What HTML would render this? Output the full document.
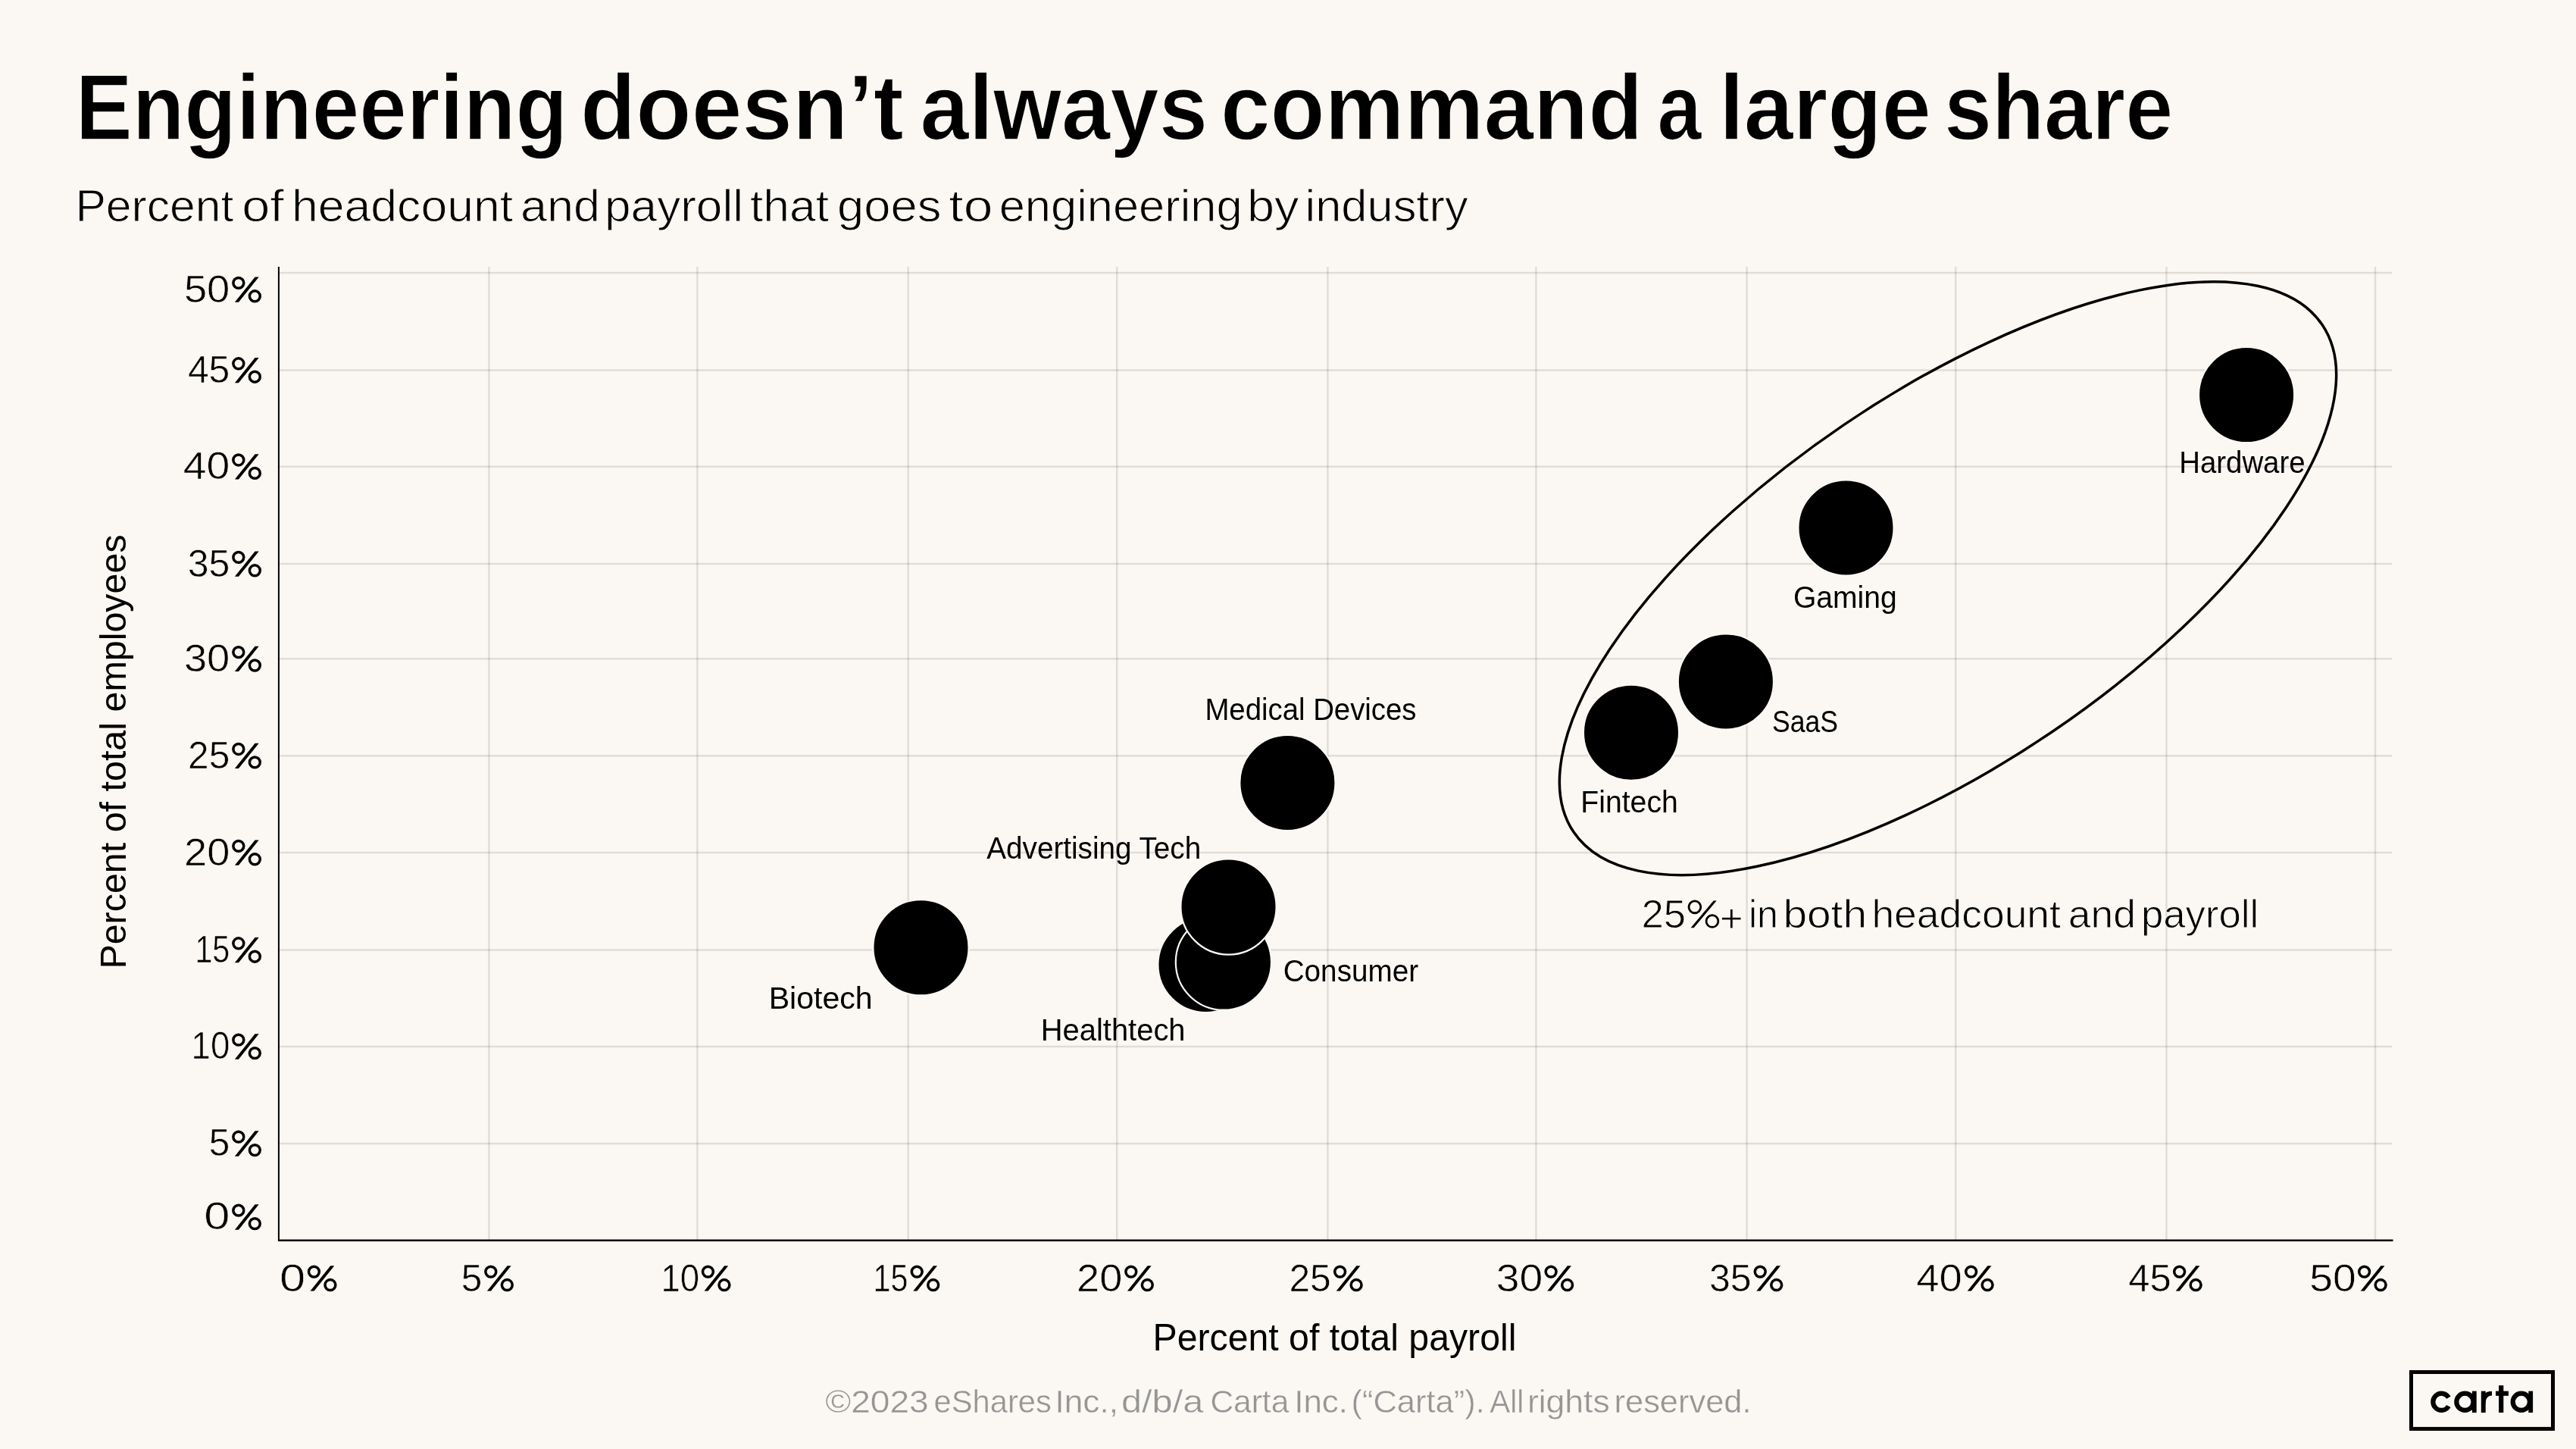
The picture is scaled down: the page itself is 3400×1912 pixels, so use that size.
<!DOCTYPE html>
<html><head><meta charset="utf-8"><title>Engineering doesn't always command a large share</title>
<style>
html,body{margin:0;padding:0;background:#FBF8F3;}
body{width:3400px;height:1912px;overflow:hidden;}
svg{display:block;will-change:transform;}
text{font-family:"Liberation Sans",sans-serif;}
</style></head><body>
<svg width="3400" height="1912" viewBox="0 0 3400 1912">
<rect x="0" y="0" width="3400" height="1912" fill="#FBF8F3"/>
<text x="99.70" y="184.30" font-size="121.5" font-weight="bold" stroke="#FBF8F3" stroke-width="1.5" textLength="649.40" lengthAdjust="spacingAndGlyphs">Engineering</text>
<text x="766.10" y="184.30" font-size="121.5" font-weight="bold" stroke="#FBF8F3" stroke-width="1.5" textLength="426.50" lengthAdjust="spacingAndGlyphs">doesn’t</text>
<text x="1214.50" y="184.30" font-size="121.5" font-weight="bold" stroke="#FBF8F3" stroke-width="1.5" textLength="379.50" lengthAdjust="spacingAndGlyphs">always</text>
<text x="1610.90" y="184.30" font-size="121.5" font-weight="bold" stroke="#FBF8F3" stroke-width="1.5" textLength="557.40" lengthAdjust="spacingAndGlyphs">command</text>
<text x="2187.40" y="184.30" font-size="121.5" font-weight="bold" stroke="#FBF8F3" stroke-width="1.5" textLength="58.20" lengthAdjust="spacingAndGlyphs">a</text>
<text x="2269.20" y="184.30" font-size="121.5" font-weight="bold" stroke="#FBF8F3" stroke-width="1.5" textLength="279.70" lengthAdjust="spacingAndGlyphs">large</text>
<text x="2565.90" y="184.30" font-size="121.5" font-weight="bold" stroke="#FBF8F3" stroke-width="1.5" textLength="302.30" lengthAdjust="spacingAndGlyphs">share</text>
<text x="99.40" y="291.80" font-size="60" stroke="#FBF8F3" stroke-width="1.0" textLength="209.00" lengthAdjust="spacingAndGlyphs">Percent</text>
<text x="319.20" y="291.80" font-size="60" stroke="#FBF8F3" stroke-width="1.0" textLength="55.50" lengthAdjust="spacingAndGlyphs">of</text>
<text x="385.00" y="291.80" font-size="60" stroke="#FBF8F3" stroke-width="1.0" textLength="292.10" lengthAdjust="spacingAndGlyphs">headcount</text>
<text x="686.90" y="291.80" font-size="60" stroke="#FBF8F3" stroke-width="1.0" textLength="105.10" lengthAdjust="spacingAndGlyphs">and</text>
<text x="798.10" y="291.80" font-size="60" stroke="#FBF8F3" stroke-width="1.0" textLength="182.90" lengthAdjust="spacingAndGlyphs">payroll</text>
<text x="990.00" y="291.80" font-size="60" stroke="#FBF8F3" stroke-width="1.0" textLength="104.00" lengthAdjust="spacingAndGlyphs">that</text>
<text x="1105.00" y="291.80" font-size="60" stroke="#FBF8F3" stroke-width="1.0" textLength="137.40" lengthAdjust="spacingAndGlyphs">goes</text>
<text x="1252.30" y="291.80" font-size="60" stroke="#FBF8F3" stroke-width="1.0" textLength="58.10" lengthAdjust="spacingAndGlyphs">to</text>
<text x="1318.70" y="291.80" font-size="60" stroke="#FBF8F3" stroke-width="1.0" textLength="320.90" lengthAdjust="spacingAndGlyphs">engineering</text>
<text x="1646.00" y="291.80" font-size="60" stroke="#FBF8F3" stroke-width="1.0" textLength="68.50" lengthAdjust="spacingAndGlyphs">by</text>
<text x="1722.50" y="291.80" font-size="60" stroke="#FBF8F3" stroke-width="1.0" textLength="215.10" lengthAdjust="spacingAndGlyphs">industry</text>
<g stroke="#000" stroke-opacity="0.105" stroke-width="2.5"><line x1="645.4" y1="352" x2="645.4" y2="1636"/><line x1="920.4" y1="352" x2="920.4" y2="1636"/><line x1="1198.7" y1="352" x2="1198.7" y2="1636"/><line x1="1474.2" y1="352" x2="1474.2" y2="1636"/><line x1="1752.4" y1="352" x2="1752.4" y2="1636"/><line x1="2027.4" y1="352" x2="2027.4" y2="1636"/><line x1="2305.6" y1="352" x2="2305.6" y2="1636"/><line x1="2581.2" y1="352" x2="2581.2" y2="1636"/><line x1="2859.4" y1="352" x2="2859.4" y2="1636"/><line x1="3135.0" y1="352" x2="3135.0" y2="1636"/><line x1="368" y1="1508.9" x2="3157" y2="1508.9"/><line x1="368" y1="1380.9" x2="3157" y2="1380.9"/><line x1="368" y1="1253.5" x2="3157" y2="1253.5"/><line x1="368" y1="1125.1" x2="3157" y2="1125.1"/><line x1="368" y1="997.2" x2="3157" y2="997.2"/><line x1="368" y1="869.3" x2="3157" y2="869.3"/><line x1="368" y1="744.1" x2="3157" y2="744.1"/><line x1="368" y1="615.7" x2="3157" y2="615.7"/><line x1="368" y1="488.5" x2="3157" y2="488.5"/><line x1="368" y1="360.1" x2="3157" y2="360.1"/></g>
<line x1="367.9" y1="352" x2="367.9" y2="1637.5" stroke="#000" stroke-width="2"/>
<line x1="367" y1="1636.8" x2="3158.5" y2="1636.8" stroke="#000" stroke-width="2.4"/>
<text x="269.20" y="1622.40" font-size="49.2" stroke="#FBF8F3" stroke-width="0.6" textLength="34.14" lengthAdjust="spacingAndGlyphs">0</text>
<text x="275.80" y="1525.40" font-size="49.2" stroke="#FBF8F3" stroke-width="0.6" textLength="27.54" lengthAdjust="spacingAndGlyphs">5</text>
<text x="252.60" y="1397.40" font-size="49.2" stroke="#FBF8F3" stroke-width="0.6" textLength="50.74" lengthAdjust="spacingAndGlyphs">10</text>
<text x="257.40" y="1270.00" font-size="49.2" stroke="#FBF8F3" stroke-width="0.6" textLength="45.94" lengthAdjust="spacingAndGlyphs">15</text>
<text x="243.10" y="1141.60" font-size="49.2" stroke="#FBF8F3" stroke-width="0.6" textLength="60.24" lengthAdjust="spacingAndGlyphs">20</text>
<text x="248.10" y="1013.70" font-size="49.2" stroke="#FBF8F3" stroke-width="0.6" textLength="55.24" lengthAdjust="spacingAndGlyphs">25</text>
<text x="242.90" y="885.80" font-size="49.2" stroke="#FBF8F3" stroke-width="0.6" textLength="60.44" lengthAdjust="spacingAndGlyphs">30</text>
<text x="247.70" y="760.60" font-size="49.2" stroke="#FBF8F3" stroke-width="0.6" textLength="55.64" lengthAdjust="spacingAndGlyphs">35</text>
<text x="241.80" y="632.20" font-size="49.2" stroke="#FBF8F3" stroke-width="0.6" textLength="61.54" lengthAdjust="spacingAndGlyphs">40</text>
<text x="247.90" y="505.00" font-size="49.2" stroke="#FBF8F3" stroke-width="0.6" textLength="55.44" lengthAdjust="spacingAndGlyphs">45</text>
<text x="242.90" y="398.60" font-size="49.2" stroke="#FBF8F3" stroke-width="0.6" textLength="60.44" lengthAdjust="spacingAndGlyphs">50</text>
<text x="369.00" y="1703.70" font-size="49.2" stroke="#FBF8F3" stroke-width="0.6" textLength="34.14" lengthAdjust="spacingAndGlyphs">0</text>
<text x="608.80" y="1703.70" font-size="49.2" stroke="#FBF8F3" stroke-width="0.6" textLength="27.54" lengthAdjust="spacingAndGlyphs">5</text>
<text x="872.40" y="1703.70" font-size="49.2" stroke="#FBF8F3" stroke-width="0.6" textLength="50.74" lengthAdjust="spacingAndGlyphs">10</text>
<text x="1152.60" y="1703.70" font-size="49.2" stroke="#FBF8F3" stroke-width="0.6" textLength="45.94" lengthAdjust="spacingAndGlyphs">15</text>
<text x="1421.10" y="1703.70" font-size="49.2" stroke="#FBF8F3" stroke-width="0.6" textLength="60.24" lengthAdjust="spacingAndGlyphs">20</text>
<text x="1701.50" y="1703.70" font-size="49.2" stroke="#FBF8F3" stroke-width="0.6" textLength="55.24" lengthAdjust="spacingAndGlyphs">25</text>
<text x="1974.80" y="1703.70" font-size="49.2" stroke="#FBF8F3" stroke-width="0.6" textLength="61.44" lengthAdjust="spacingAndGlyphs">30</text>
<text x="2255.90" y="1703.70" font-size="49.2" stroke="#FBF8F3" stroke-width="0.6" textLength="55.64" lengthAdjust="spacingAndGlyphs">35</text>
<text x="2529.20" y="1703.70" font-size="49.2" stroke="#FBF8F3" stroke-width="0.6" textLength="60.54" lengthAdjust="spacingAndGlyphs">40</text>
<text x="2809.30" y="1703.70" font-size="49.2" stroke="#FBF8F3" stroke-width="0.6" textLength="56.44" lengthAdjust="spacingAndGlyphs">45</text>
<text x="3048.30" y="1703.70" font-size="49.2" stroke="#FBF8F3" stroke-width="0.6" textLength="61.44" lengthAdjust="spacingAndGlyphs">50</text>
<text x="1521.50" y="1781.80" font-size="49.4" textLength="479.90" lengthAdjust="spacingAndGlyphs">Percent of total payroll</text>
<g transform="rotate(-90 165.9 1278.6)"><text x="165.90" y="1278.60" font-size="48.5" textLength="573.20" lengthAdjust="spacingAndGlyphs">Percent of total employees</text></g>
<ellipse cx="2571" cy="763.2" rx="596.7" ry="244.8" transform="rotate(-34.14 2571 763.2)" fill="none" stroke="#000" stroke-width="3.5"/>
<circle cx="1215.5" cy="1250.3" r="63.1" fill="#000" stroke="#FBF8F3" stroke-width="2.2"/>
<circle cx="1699.4" cy="1033" r="63.1" fill="#000" stroke="#FBF8F3" stroke-width="2.2"/>
<circle cx="1591.5" cy="1273.0" r="63.1" fill="#000" stroke="#FBF8F3" stroke-width="2.2"/>
<circle cx="1614.9" cy="1269.6" r="63.1" fill="#000" stroke="#FBF8F3" stroke-width="2.2"/>
<circle cx="1621.5" cy="1196.5" r="63.1" fill="#000" stroke="#FBF8F3" stroke-width="2.2"/>
<circle cx="2153" cy="966.7" r="63.1" fill="#000" stroke="#FBF8F3" stroke-width="2.2"/>
<circle cx="2277.9" cy="899.4" r="63.1" fill="#000" stroke="#FBF8F3" stroke-width="2.2"/>
<circle cx="2436.5" cy="696.5" r="63.1" fill="#000" stroke="#FBF8F3" stroke-width="2.2"/>
<circle cx="2965.1" cy="521.1" r="63.1" fill="#000" stroke="#FBF8F3" stroke-width="2.2"/>
<text x="1590.40" y="949.90" font-size="40.2" textLength="279.10" lengthAdjust="spacingAndGlyphs">Medical Devices</text>
<text x="1302.30" y="1133.30" font-size="40.2" textLength="282.90" lengthAdjust="spacingAndGlyphs">Advertising Tech</text>
<text x="1693.70" y="1294.50" font-size="40.2" textLength="178.40" lengthAdjust="spacingAndGlyphs">Consumer</text>
<text x="1014.70" y="1330.80" font-size="40.2" textLength="137.00" lengthAdjust="spacingAndGlyphs">Biotech</text>
<text x="1373.70" y="1372.70" font-size="40.2" textLength="190.90" lengthAdjust="spacingAndGlyphs">Healthtech</text>
<text x="2367.00" y="802.20" font-size="40.2" textLength="136.70" lengthAdjust="spacingAndGlyphs">Gaming</text>
<text x="2339.00" y="966.20" font-size="40.2" textLength="87.00" lengthAdjust="spacingAndGlyphs">SaaS</text>
<text x="2086.30" y="1072.10" font-size="40.2" textLength="128.50" lengthAdjust="spacingAndGlyphs">Fintech</text>
<text x="2876.30" y="624.20" font-size="40.2" textLength="166.20" lengthAdjust="spacingAndGlyphs">Hardware</text>
<text x="1089.20" y="1863.80" font-size="43.3" fill="#959595" stroke="#FBF8F3" stroke-width="0.4" textLength="136.60" lengthAdjust="spacingAndGlyphs">©2023</text>
<text x="1232.50" y="1863.80" font-size="43.3" fill="#959595" stroke="#FBF8F3" stroke-width="0.4" textLength="155.30" lengthAdjust="spacingAndGlyphs">eShares</text>
<text x="1392.40" y="1863.80" font-size="43.3" fill="#959595" stroke="#FBF8F3" stroke-width="0.4" textLength="83.60" lengthAdjust="spacingAndGlyphs">Inc.,</text>
<text x="1480.00" y="1863.80" font-size="43.3" fill="#959595" stroke="#FBF8F3" stroke-width="0.4" textLength="108.30" lengthAdjust="spacingAndGlyphs">d/b/a</text>
<text x="1597.40" y="1863.80" font-size="43.3" fill="#959595" stroke="#FBF8F3" stroke-width="0.4" textLength="103.90" lengthAdjust="spacingAndGlyphs">Carta</text>
<text x="1708.20" y="1863.80" font-size="43.3" fill="#959595" stroke="#FBF8F3" stroke-width="0.4" textLength="70.80" lengthAdjust="spacingAndGlyphs">Inc.</text>
<text x="1783.50" y="1863.80" font-size="43.3" fill="#959595" stroke="#FBF8F3" stroke-width="0.4" textLength="176.20" lengthAdjust="spacingAndGlyphs">(“Carta”).</text>
<text x="1966.30" y="1863.80" font-size="43.3" fill="#959595" stroke="#FBF8F3" stroke-width="0.4" textLength="45.00" lengthAdjust="spacingAndGlyphs">All</text>
<text x="2015.90" y="1863.80" font-size="43.3" fill="#959595" stroke="#FBF8F3" stroke-width="0.4" textLength="108.80" lengthAdjust="spacingAndGlyphs">rights</text>
<text x="2130.50" y="1863.80" font-size="43.3" fill="#959595" stroke="#FBF8F3" stroke-width="0.4" textLength="181.10" lengthAdjust="spacingAndGlyphs">reserved.</text>
<text x="2166.40" y="1224.00" font-size="52.3" stroke="#FBF8F3" stroke-width="0.9" textLength="58.60" lengthAdjust="spacingAndGlyphs">25</text>
<text x="2270.00" y="1229.50" font-size="52.3" stroke="#FBF8F3" stroke-width="0.9" textLength="30.60" lengthAdjust="spacingAndGlyphs">+</text>
<text x="2307.90" y="1224.00" font-size="52.3" stroke="#FBF8F3" stroke-width="0.9" textLength="39.10" lengthAdjust="spacingAndGlyphs">in</text>
<text x="2353.40" y="1224.00" font-size="52.3" stroke="#FBF8F3" stroke-width="0.9" textLength="110.60" lengthAdjust="spacingAndGlyphs">both</text>
<text x="2470.40" y="1224.00" font-size="52.3" stroke="#FBF8F3" stroke-width="0.9" textLength="249.50" lengthAdjust="spacingAndGlyphs">headcount</text>
<text x="2729.80" y="1224.00" font-size="52.3" stroke="#FBF8F3" stroke-width="0.9" textLength="89.10" lengthAdjust="spacingAndGlyphs">and</text>
<text x="2825.90" y="1224.00" font-size="52.3" stroke="#FBF8F3" stroke-width="0.9" textLength="155.20" lengthAdjust="spacingAndGlyphs">payroll</text>
<g fill="none" stroke="#000" stroke-width="3.5"><circle cx="414.41" cy="1678.12" r="6.94"/><circle cx="435.91" cy="1695.54" r="6.94"/><path d="M409.48,1703.58L414.55,1703.58L441.25,1670.29L436.18,1670.29Z" fill="#000" stroke="none"/></g>
<g fill="none" stroke="#000" stroke-width="3.5"><circle cx="647.81" cy="1678.12" r="6.94"/><circle cx="669.31" cy="1695.54" r="6.94"/><path d="M642.88,1703.58L647.95,1703.58L674.65,1670.29L669.58,1670.29Z" fill="#000" stroke="none"/></g>
<g fill="none" stroke="#000" stroke-width="3.5"><circle cx="934.41" cy="1678.12" r="6.94"/><circle cx="955.91" cy="1695.54" r="6.94"/><path d="M929.48,1703.58L934.55,1703.58L961.25,1670.29L956.18,1670.29Z" fill="#000" stroke="none"/></g>
<g fill="none" stroke="#000" stroke-width="3.5"><circle cx="1210.21" cy="1678.12" r="6.94"/><circle cx="1231.71" cy="1695.54" r="6.94"/><path d="M1205.28,1703.58L1210.35,1703.58L1237.05,1670.29L1231.98,1670.29Z" fill="#000" stroke="none"/></g>
<g fill="none" stroke="#000" stroke-width="3.5"><circle cx="1492.81" cy="1678.12" r="6.94"/><circle cx="1514.31" cy="1695.54" r="6.94"/><path d="M1487.88,1703.58L1492.95,1703.58L1519.65,1670.29L1514.58,1670.29Z" fill="#000" stroke="none"/></g>
<g fill="none" stroke="#000" stroke-width="3.5"><circle cx="1768.61" cy="1678.12" r="6.94"/><circle cx="1790.11" cy="1695.54" r="6.94"/><path d="M1763.68,1703.58L1768.75,1703.58L1795.45,1670.29L1790.38,1670.29Z" fill="#000" stroke="none"/></g>
<g fill="none" stroke="#000" stroke-width="3.5"><circle cx="2047.11" cy="1678.12" r="6.94"/><circle cx="2068.61" cy="1695.54" r="6.94"/><path d="M2042.18,1703.58L2047.25,1703.58L2073.95,1670.29L2068.88,1670.29Z" fill="#000" stroke="none"/></g>
<g fill="none" stroke="#000" stroke-width="3.5"><circle cx="2323.21" cy="1678.12" r="6.94"/><circle cx="2344.71" cy="1695.54" r="6.94"/><path d="M2318.28,1703.58L2323.35,1703.58L2350.05,1670.29L2344.98,1670.29Z" fill="#000" stroke="none"/></g>
<g fill="none" stroke="#000" stroke-width="3.5"><circle cx="2601.61" cy="1678.12" r="6.94"/><circle cx="2623.11" cy="1695.54" r="6.94"/><path d="M2596.68,1703.58L2601.75,1703.58L2628.45,1670.29L2623.38,1670.29Z" fill="#000" stroke="none"/></g>
<g fill="none" stroke="#000" stroke-width="3.5"><circle cx="2876.61" cy="1678.12" r="6.94"/><circle cx="2898.11" cy="1695.54" r="6.94"/><path d="M2871.68,1703.58L2876.75,1703.58L2903.45,1670.29L2898.38,1670.29Z" fill="#000" stroke="none"/></g>
<g fill="none" stroke="#000" stroke-width="3.5"><circle cx="3120.61" cy="1678.12" r="6.94"/><circle cx="3142.11" cy="1695.54" r="6.94"/><path d="M3115.68,1703.58L3120.75,1703.58L3147.45,1670.29L3142.38,1670.29Z" fill="#000" stroke="none"/></g>
<g fill="none" stroke="#000" stroke-width="3.5"><circle cx="314.81" cy="1597.17" r="6.94"/><circle cx="336.31" cy="1614.59" r="6.94"/><path d="M309.88,1622.63L314.95,1622.63L341.65,1589.34L336.58,1589.34Z" fill="#000" stroke="none"/></g>
<g fill="none" stroke="#000" stroke-width="3.5"><circle cx="314.81" cy="1500.17" r="6.94"/><circle cx="336.31" cy="1517.59" r="6.94"/><path d="M309.88,1525.63L314.95,1525.63L341.65,1492.34L336.58,1492.34Z" fill="#000" stroke="none"/></g>
<g fill="none" stroke="#000" stroke-width="3.5"><circle cx="314.81" cy="1372.17" r="6.94"/><circle cx="336.31" cy="1389.59" r="6.94"/><path d="M309.88,1397.63L314.95,1397.63L341.65,1364.34L336.58,1364.34Z" fill="#000" stroke="none"/></g>
<g fill="none" stroke="#000" stroke-width="3.5"><circle cx="314.81" cy="1244.77" r="6.94"/><circle cx="336.31" cy="1262.19" r="6.94"/><path d="M309.88,1270.23L314.95,1270.23L341.65,1236.94L336.58,1236.94Z" fill="#000" stroke="none"/></g>
<g fill="none" stroke="#000" stroke-width="3.5"><circle cx="314.81" cy="1116.37" r="6.94"/><circle cx="336.31" cy="1133.79" r="6.94"/><path d="M309.88,1141.83L314.95,1141.83L341.65,1108.54L336.58,1108.54Z" fill="#000" stroke="none"/></g>
<g fill="none" stroke="#000" stroke-width="3.5"><circle cx="314.81" cy="988.47" r="6.94"/><circle cx="336.31" cy="1005.89" r="6.94"/><path d="M309.88,1013.93L314.95,1013.93L341.65,980.64L336.58,980.64Z" fill="#000" stroke="none"/></g>
<g fill="none" stroke="#000" stroke-width="3.5"><circle cx="314.81" cy="860.57" r="6.94"/><circle cx="336.31" cy="877.99" r="6.94"/><path d="M309.88,886.03L314.95,886.03L341.65,852.74L336.58,852.74Z" fill="#000" stroke="none"/></g>
<g fill="none" stroke="#000" stroke-width="3.5"><circle cx="314.81" cy="735.37" r="6.94"/><circle cx="336.31" cy="752.79" r="6.94"/><path d="M309.88,760.83L314.95,760.83L341.65,727.54L336.58,727.54Z" fill="#000" stroke="none"/></g>
<g fill="none" stroke="#000" stroke-width="3.5"><circle cx="314.81" cy="606.97" r="6.94"/><circle cx="336.31" cy="624.39" r="6.94"/><path d="M309.88,632.43L314.95,632.43L341.65,599.14L336.58,599.14Z" fill="#000" stroke="none"/></g>
<g fill="none" stroke="#000" stroke-width="3.5"><circle cx="314.81" cy="479.77" r="6.94"/><circle cx="336.31" cy="497.19" r="6.94"/><path d="M309.88,505.23L314.95,505.23L341.65,471.94L336.58,471.94Z" fill="#000" stroke="none"/></g>
<g fill="none" stroke="#000" stroke-width="3.5"><circle cx="314.81" cy="373.37" r="6.94"/><circle cx="336.31" cy="390.79" r="6.94"/><path d="M309.88,398.83L314.95,398.83L341.65,365.54L336.58,365.54Z" fill="#000" stroke="none"/></g>
<g fill="none" stroke="#000" stroke-width="2.8"><circle cx="2236.91" cy="1196.84" r="7.92"/><circle cx="2259.96" cy="1215.52" r="7.92"/><path d="M2231.62,1224.14L2235.68,1224.14L2265.70,1188.44L2261.64,1188.44Z" fill="#000" stroke="none"/></g>
<rect x="3182.5" y="1810.5" width="187" height="74.9" fill="none" stroke="#000" stroke-width="5"/>
<g><path d="M3231.91,1844.08 A11.1,11.1 0 1 0 3231.91,1855.52" fill="none" stroke="#000" stroke-width="6.2"/><circle cx="3253.4" cy="1849.8" r="11.1" fill="none" stroke="#000" stroke-width="6.2"/><rect x="3262.90" y="1835.6" width="5.8" height="28.4" fill="#000"/><circle cx="3327.8" cy="1849.8" r="11.1" fill="none" stroke="#000" stroke-width="6.2"/><rect x="3337.30" y="1835.6" width="5.8" height="28.4" fill="#000"/><rect x="3274.8" y="1835.6" width="5.9" height="28.4" fill="#000"/><path d="M3277.7,1853 C3277.7,1843 3282,1838.6 3289,1838.6" fill="none" stroke="#000" stroke-width="5.6"/><rect x="3298.1" y="1828.1" width="6.2" height="35.9" fill="#000"/><rect x="3294" y="1835.6" width="16.9" height="6.2" fill="#000"/></g>
</svg></body></html>
